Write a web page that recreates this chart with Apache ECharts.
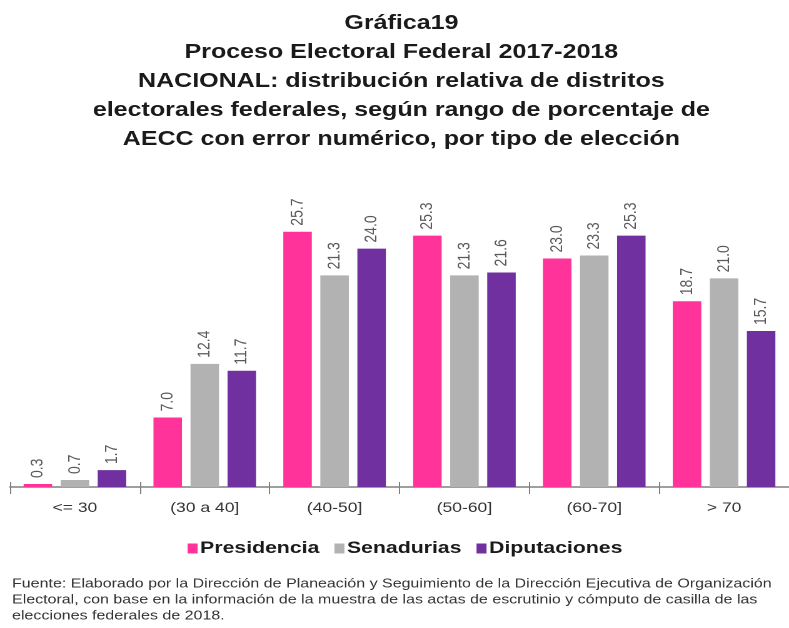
<!DOCTYPE html>
<html>
<head>
<meta charset="utf-8">
<script src="https://cdn.jsdelivr.net/npm/echarts@6/dist/echarts.min.js"></script>
<style>
  html, body { margin: 0; padding: 0; background: #fff; overflow: hidden; }
  /* la gráfica original viene estirada a lo ancho (~1.25) */
  #chart { width: 631px; height: 628px; transform: scaleX(1.2504); transform-origin: 0 0; }
</style>
</head>
<body>
<div id="chart"></div>
<script>
// rangos de porcentaje de AECC con error numérico
var categorias = ['<= 30', '(30 a 40]', '(40-50]', '(50-60]', '(60-70]', '> 70'];
var presidencia = [0.3, 7.0, 25.7, 25.3, 23.0, 18.7];
var senadurias = [0.7, 12.4, 21.3, 21.3, 23.3, 21.0];
var diputaciones = [1.7, 11.7, 24.0, 21.6, 25.3, 15.7];

var titulo = 'Gráfica19\nProceso Electoral Federal 2017-2018\nNACIONAL: distribución relativa de distritos\nelectorales federales, según rango de porcentaje de\nAECC con error numérico, por tipo de elección';
var fuente = 'Fuente: Elaborado por la Dirección de Planeación y Seguimiento de la Dirección Ejecutiva de Organización\nElectoral, con base en la información de la muestra de las actas de escrutinio y cómputo de casilla de las\nelecciones federales de 2018.';

var fontBase = 'Liberation Sans, Arial, sans-serif';

function serie(nombre, datos, color) {
    return {
        name: nombre,
        type: 'bar',
        data: datos,
        barCategoryGap: '21%',
        barGap: '30%',
        itemStyle: {color: color},
        label: {
            show: true,
            position: 'top',
            rotate: 90,
            align: 'left',
            verticalAlign: 'middle',
            distance: 6,
            color: '#595959',
            fontSize: 14,
            fontFamily: fontBase,
            formatter: function (p) { return p.value.toFixed(1); }
        }
    };
}

var myChart = echarts.init(document.getElementById('chart'), null, {devicePixelRatio: 2});
myChart.setOption({
    animation: false,
    title: [
        {
            text: titulo,
            left: 316,
            top: 4,
            textAlign: 'center',
            textStyle: {fontSize: 20, fontWeight: 'bold', color: '#1a1a1a', lineHeight: 29, fontFamily: fontBase}
        },
        {
            text: fuente,
            left: 4.6,
            top: 571,
            textStyle: {fontSize: 12.8, fontWeight: 'normal', color: '#333', lineHeight: 16, fontFamily: fontBase}
        }
    ],
    legend: {
        top: 535,
        left: 145,
        itemWidth: 8,
        itemHeight: 10,
        itemGap: 12,
        icon: 'rect',
        textStyle: {fontSize: 17, fontWeight: 'bold', color: '#1a1a1a', fontFamily: fontBase, padding: [0, 0, 0, -3]},
        data: ['Presidencia', 'Senadurias', 'Diputaciones']
    },
    grid: {left: 8, right: -1, top: 189, bottom: 141},
    xAxis: [
        {
            type: 'category',
            data: categorias,
            axisLine: {lineStyle: {color: '#7f7f7f', width: 1.5}},
            axisTick: {show: true, length: 7, lineStyle: {color: '#7f7f7f'}},
            axisLabel: {color: '#333', fontSize: 14, margin: 14, fontFamily: fontBase}
        },
        {
            type: 'category',
            data: categorias,
            position: 'bottom',
            axisLine: {show: false},
            axisTick: {show: true, inside: true, length: 5, lineStyle: {color: '#7f7f7f'}},
            axisLabel: {show: false}
        }
    ],
    yAxis: {
        type: 'value',
        min: 0,
        max: 30,
        show: false,
        splitLine: {show: false}
    },
    series: [
        serie('Presidencia', presidencia, '#ff3399'),
        serie('Senadurias', senadurias, '#b2b2b2'),
        serie('Diputaciones', diputaciones, '#7030a0')
    ]
});
</script>
</body>
</html>
